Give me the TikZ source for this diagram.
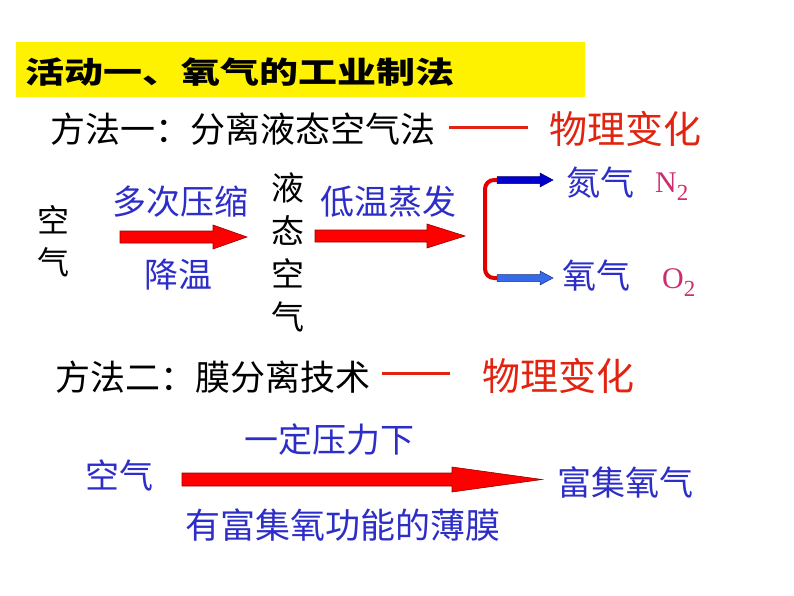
\documentclass[tikz,border=0pt]{standalone}
\usepackage{fontspec}
\setmainfont{Noto Sans CJK SC}
\newfontfamily\titlefont[FakeStretch=1.3]{Noto Sans CJK SC}
\newfontfamily\chemfont{Liberation Serif}
\usetikzlibrary{positioning}
\newcommand{\sz}[1]{\fontsize{#1}{#1}\selectfont}
% block arrow: from x, tip x, mid y, shaft half, head half, head length, style
\newcommand{\blockarrow}[7]{%
  \draw[#7] (#1,#3-#4) -- (#2-#6,#3-#4) -- (#2-#6,#3-#5) -- (#2,#3)
    -- (#2-#6,#3+#5) -- (#2-#6,#3+#4) -- (#1,#3+#4) -- cycle;}
\definecolor{labelblue}{RGB}{45,45,200}
\definecolor{labelred}{RGB}{225,35,15}
\definecolor{formulapink}{RGB}{205,45,110}
\definecolor{deepblue}{RGB}{0,0,205}
\definecolor{lightblue}{RGB}{55,105,235}
\tikzset{
    x=1pt, y=-1pt, % one unit per pixel, y running down
    every node/.style={inner sep=0pt}, % text sits right on its anchor
    plain/.style={font=\sz{35}}, % black heading text
    column/.style={align=center, font=\fontsize{33}{43}\selectfont}, % upright text
    bluelabel/.style={text=labelblue, font=\sz{34}}, % blue step labels
    redlabel/.style={text=labelred, font=\sz{38}}, % red "physical change"
    formula/.style={text=formulapink, font=\chemfont\sz{30}}, % N2, O2
    dashline/.style={draw=labelred, line width=3pt}, % the long dash
    redarrow/.style={fill=red, draw=red!60!black, line width=0.6pt},
    bracket/.style={draw=red!90!black, line width=4pt, rounded corners=9pt},
}

\begin{document}
\begin{tikzpicture}
\useasboundingbox (0,0) rectangle (794,596);
\fill[yellow] (16,42) rectangle (585,97);
\node[anchor=west, font=\titlefont\bfseries\sz{30}] (title) at (25,72) {活动一、氧气的工业制法};

% method one
\node[plain, anchor=west] (methodA) at (50,129) {方法一：分离液态空气法};
\coordinate (dashA1) at (449,128);
\coordinate (dashA2) at (528,128);
\draw[dashline] (dashA1) -- (dashA2);
\node[redlabel, anchor=west] (changeA) at (549,129) {物理变化};

\node[column, font=\fontsize{32}{42}\selectfont] (air) at (53,241) {空\\气};
\node[bluelabel] (compress) at (180,202) {多次压缩};
\node[bluelabel] (cool) at (178,275) {降温};
\blockarrow{120}{247}{237}{6}{12}{34}{redarrow}
\node[column] (liquid) at (288,252) {液\\态\\空\\气};
\node[bluelabel] (evaporate) at (388,202) {低温蒸发};
\blockarrow{315}{465}{236}{6}{12}{38}{redarrow}

\draw[bracket] (497,180) -| (485,278) -- (497,278);
\blockarrow{497}{553}{180}{3.5}{7}{13}{fill=deepblue, draw=deepblue!60!black, line width=0.5pt}
\blockarrow{497}{553}{278}{3.5}{7}{13}{fill=lightblue, draw=lightblue!50!black, line width=0.5pt}
\node[bluelabel] (nitrogen) at (600,183) {氮气};
\node[formula, anchor=base west] (ntwo) at (655,193) {N\raisebox{-8pt}{\sz{23}2}};
\node[bluelabel] (oxygen) at (596,276) {氧气};
\node[formula, anchor=base west] (otwo) at (662,288) {O\raisebox{-8pt}{\sz{23}2}};

% method two
\node[plain, anchor=west] (methodB) at (55,377) {方法二：膜分离技术};
\coordinate (dashB1) at (382,373);
\coordinate (dashB2) at (450,373);
\draw[dashline] (dashB1) -- (dashB2);
\node[redlabel, anchor=west] (changeB) at (482,376) {物理变化};

\node[bluelabel] (pressure) at (329,440) {一定压力下};
\node[bluelabel] (airB) at (119,475) {空气};
\blockarrow{182}{542}{479.5}{6.5}{12.5}{90}{redarrow}
\node[bluelabel] (rich) at (625,482) {富集氧气};
\node[bluelabel, font=\sz{35}] (membrane) at (343,525) {有富集氧功能的薄膜};
\end{tikzpicture}
\end{document}
